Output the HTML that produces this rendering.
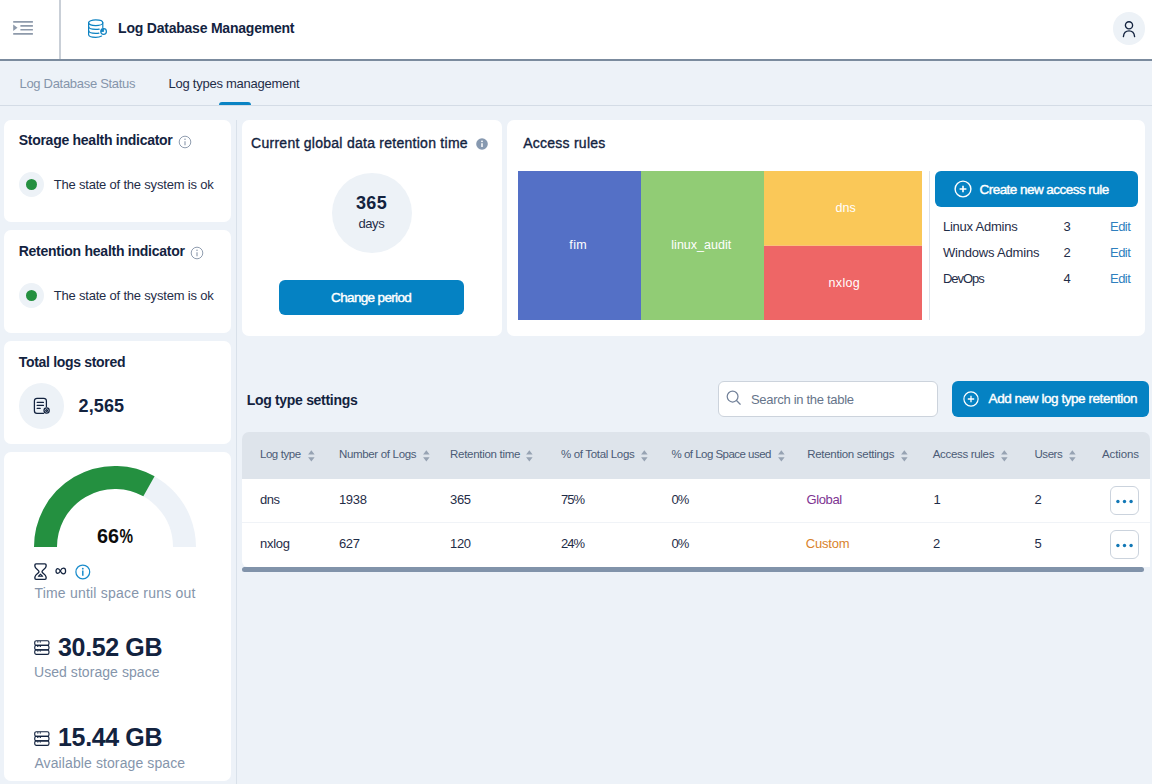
<!DOCTYPE html>
<html><head><meta charset="utf-8"><title>Log Database Management</title>
<style>
*{box-sizing:border-box;margin:0;padding:0}
html,body{width:1152px;height:784px;overflow:hidden}
body{background:#edf2f8;font-family:"Liberation Sans",sans-serif;position:relative}
.a{position:absolute}
.t{position:absolute;white-space:pre;line-height:20px;font-family:"Liberation Sans",sans-serif}
.card{position:absolute;background:#fff;border-radius:7px}
.btn{position:absolute;background:#0582c3;border-radius:6px}
svg{position:absolute;overflow:visible}

</style></head>
<body>
<!-- header -->
<div class="a" style="left:0;top:0;width:1152px;height:59px;background:#fff"></div>
<div class="a" style="left:0;top:59px;width:1152px;height:2px;background:#7b8b9e"></div>
<div class="a" style="left:59px;top:0;width:2px;height:59px;background:#c9cfd7"></div>
<!-- menu icon -->
<svg style="left:13px;top:20px" width="21" height="16" viewBox="0 0 21 16">
  <g stroke="#8e9aab" stroke-width="1.7" fill="none">
    <path d="M0.2 1.85H19.9M7.4 5.85H19.9M7.4 9.75H19.9M0.2 13.85H19.9"/>
  </g>
  <path d="M0.2 4.6L4.5 7.75L0.2 10.9Z" fill="#8e9aab"/>
</svg>
<!-- db icon -->
<svg style="left:88px;top:19px" width="20" height="20" viewBox="0 0 20 20">
  <g stroke="#0d82c2" stroke-width="1.2" fill="none" stroke-linecap="round">
    <ellipse cx="7.7" cy="3.75" rx="7.1" ry="2.8"/>
    <path d="M0.6 3.65V15.5C0.6 17.1 3.7 18.35 7.7 18.35C10 18.35 12.2 17.9 13.6 17.1"/>
    <path d="M14.8 3.65V8.4"/>
    <path d="M0.6 7.6C0.6 9.2 3.7 10.45 7.7 10.45C9 10.45 10.2 10.3 11.2 10.05"/>
    <path d="M0.6 11.5C0.6 13.1 3.7 14.35 7.7 14.35C8.9 14.35 10 14.25 10.9 14.05"/>
    <circle cx="15.6" cy="12.5" r="2.8"/>
  </g>
  <path d="M15.6 12.5V9.9A2.6 2.6 0 0 0 13 12.5Z" fill="#0d82c2" stroke="#0d82c2" stroke-width="0.8" stroke-linejoin="round"/>
</svg>
<!-- avatar -->
<div class="a" style="left:1113px;top:12px;width:32px;height:32.6px;border-radius:50%;background:#edf2f7"></div>
<svg style="left:1121px;top:19px" width="16" height="20" viewBox="0 0 16 20">
  <g stroke="#13233f" stroke-width="1.35" fill="none" stroke-linecap="round">
    <circle cx="8" cy="6.3" r="3.6"/>
    <path d="M2.4 17.6C2.8 13.9 5.2 11.9 8 11.9C10.8 11.9 13.2 13.9 13.6 17.6"/>
  </g>
</svg>
<!-- tabs -->
<div class="a" style="left:0;top:105px;width:1152px;height:1px;background:#d4dce6"></div>
<div class="a" style="left:219px;top:101.6px;width:32px;height:3.6px;background:#0a84c4;border-radius:3px 3px 0 0"></div>
<!-- vertical page divider -->
<div class="a" style="left:236px;top:120px;width:1.2px;height:664px;background:#d9e1ea"></div>

<!-- left cards -->
<div class="card" style="left:4px;top:119.5px;width:227px;height:102.5px"></div>
<div class="card" style="left:4px;top:230.3px;width:227px;height:103px"></div>
<div class="card" style="left:4px;top:341.3px;width:227px;height:103px"></div>
<div class="card" style="left:4px;top:452.4px;width:227px;height:329px"></div>

<!-- info outline icons -->
<svg style="left:178.4px;top:135px" width="14" height="14" viewBox="0 0 14 14"><circle cx="7" cy="7" r="5.8" fill="none" stroke="#8a98ab" stroke-width="0.95"/><path d="M7 6.2V10.2" stroke="#8a98ab" stroke-width="1.1"/><circle cx="7" cy="4.3" r="0.75" fill="#8a98ab"/></svg>
<svg style="left:190px;top:246px" width="14" height="14" viewBox="0 0 14 14"><circle cx="7" cy="7" r="5.8" fill="none" stroke="#8a98ab" stroke-width="0.95"/><path d="M7 6.2V10.2" stroke="#8a98ab" stroke-width="1.1"/><circle cx="7" cy="4.3" r="0.75" fill="#8a98ab"/></svg>

<!-- status dots -->
<div class="a" style="left:18.6px;top:172px;width:25.4px;height:25.4px;border-radius:50%;background:#edf2f7"></div>
<div class="a" style="left:25.7px;top:179.1px;width:11.2px;height:11.2px;border-radius:50%;background:#249040"></div>
<div class="a" style="left:18.6px;top:283px;width:25.4px;height:25.4px;border-radius:50%;background:#edf2f7"></div>
<div class="a" style="left:25.7px;top:290.1px;width:11.2px;height:11.2px;border-radius:50%;background:#249040"></div>

<!-- total logs icon -->
<div class="a" style="left:19px;top:383.3px;width:45.4px;height:45.8px;border-radius:50%;background:#edf2f7"></div>
<svg style="left:33px;top:397px" width="18" height="18" viewBox="0 0 18 18">
  <g stroke="#13233f" stroke-width="1.25" fill="none" stroke-linecap="round" stroke-linejoin="round">
    <path d="M10.6 16.3H4A2.6 2.6 0 0 1 1.4 13.7V3.9A2.6 2.6 0 0 1 4 1.3H10.8A2.6 2.6 0 0 1 13.4 3.9V9.4"/>
    <path d="M4.2 5.4H10.4M4.2 8.4H10.4M4.2 11.4H7.2"/>
    <circle cx="13.6" cy="13.5" r="2.6"/>
    <circle cx="13.6" cy="13.5" r="0.9"/>
  </g>
</svg>

<!-- gauge -->
<svg style="left:0;top:0" width="240" height="784" viewBox="0 0 240 784">
  <path d="M45.5 547A69.5 69.5 0 0 1 184.5 547" fill="none" stroke="#edf2f8" stroke-width="23"/>
  <path d="M45.5 547A69.5 69.5 0 0 1 148.96 486.3" fill="none" stroke="#249040" stroke-width="23"/>
</svg>
<div class="t" style="left:96.8px;top:526px;font-size:21px;font-weight:bold;color:#0c0c0c;transform:scaleX(.94);transform-origin:0 50%">66<span style="display:inline-block;transform:scaleX(.77);transform-origin:0 50%;margin-left:0.5px">%</span></div>
<!-- hourglass -->
<svg style="left:34px;top:563px" width="13" height="18" viewBox="0 0 13 18">
  <path d="M2 0.9H11Q12.1 0.9 12.1 2V3.2C12.1 5.8 8 7 8 8.65C8 10.3 12.1 11.5 12.1 14.1V15.3Q12.1 16.4 11 16.4H2Q0.9 16.4 0.9 15.3V14.1C0.9 11.5 5 10.3 5 8.65C5 7 0.9 5.8 0.9 3.2V2Q0.9 0.9 2 0.9Z" fill="none" stroke="#13233f" stroke-width="1.35" stroke-linejoin="round"/>
  <path d="M6.5 11.2L8.7 13.3H4.3Z" fill="#c9d3e0" stroke="#13233f" stroke-width="1.1" stroke-linejoin="round"/>
</svg>
<!-- infinity -->
<svg style="left:55.3px;top:567px" width="12" height="8" viewBox="0 0 12 8">
  <path d="M5.3 4C4.5 2.5 3.8 1.7 2.8 1.7C1.7 1.7 1 2.7 1 4C1 5.3 1.7 6.3 2.8 6.3C3.8 6.3 4.5 5.5 5.3 4C6.2 2.2 7.2 1.2 8.4 1.2C9.8 1.2 10.6 2.4 10.6 4C10.6 5.6 9.8 6.8 8.4 6.8C7.2 6.8 6.2 5.8 5.3 4Z" fill="none" stroke="#13233f" stroke-width="1.25"/>
</svg>
<!-- info blue -->
<svg style="left:75.1px;top:563.9px" width="16" height="16" viewBox="0 0 16 16"><circle cx="7.8" cy="7.9" r="6.9" fill="none" stroke="#1a8ccb" stroke-width="1.25"/><path d="M7.8 6.6V11.7" stroke="#1a8ccb" stroke-width="1.5"/><circle cx="7.8" cy="4.7" r="0.9" fill="#1a8ccb"/></svg>

<!-- storage icons -->
<svg style="left:34px;top:640px" width="16" height="16" viewBox="0 0 16 16">
  <g stroke="#13233f" stroke-width="1.15" fill="none">
    <rect x="0.75" y="0.75" width="14.2" height="4.55" rx="1.6"/>
    <rect x="0.75" y="5.3" width="14.2" height="4.55" rx="1.6"/>
    <rect x="0.75" y="9.85" width="14.2" height="4.55" rx="1.6"/>
    <path d="M3.2 1.9H4.4M5.7 1.9H6.9M3.2 6.45H4.4M5.7 6.45H6.9M3.2 11H4.4M5.7 11H6.9" stroke-width="1.1"/>
  </g>
</svg>
<svg style="left:34px;top:731.3px" width="16" height="16" viewBox="0 0 16 16">
  <g stroke="#13233f" stroke-width="1.15" fill="none">
    <rect x="0.75" y="0.75" width="14.2" height="4.55" rx="1.6"/>
    <rect x="0.75" y="5.3" width="14.2" height="4.55" rx="1.6"/>
    <rect x="0.75" y="9.85" width="14.2" height="4.55" rx="1.6"/>
    <path d="M3.2 1.9H4.4M5.7 1.9H6.9M3.2 6.45H4.4M5.7 6.45H6.9M3.2 11H4.4M5.7 11H6.9" stroke-width="1.1"/>
  </g>
</svg>

<!-- retention card -->
<div class="card" style="left:242px;top:119.5px;width:260px;height:216px"></div>
<svg style="left:475.8px;top:138.3px" width="12" height="12" viewBox="0 0 12 12"><circle cx="6" cy="6" r="5.8" fill="#8799b0"/><path d="M6 5.2V9" stroke="#fff" stroke-width="1.5"/><circle cx="6" cy="3.3" r="0.9" fill="#fff"/></svg>
<div class="a" style="left:332px;top:173px;width:80px;height:80.4px;border-radius:50%;background:#edf2f7"></div>
<div class="btn" style="left:279px;top:280px;width:185px;height:35px"></div>

<!-- access rules card -->
<div class="card" style="left:507px;top:119.5px;width:638px;height:216px"></div>
<div class="a" style="left:640px;top:170.8px;width:282.2px;height:149.2px;background:#fbc27a"></div>
<div class="a" style="left:518px;top:170.8px;width:122.9px;height:149.2px;background:#5470c6"></div>
<div class="a" style="left:641.1px;top:170.8px;width:122.8px;height:149.2px;background:#91cc75"></div>
<div class="a" style="left:764.2px;top:170.8px;width:158px;height:74.4px;background:#fac858"></div>
<div class="a" style="left:764.2px;top:245.5px;width:158px;height:74.5px;background:#ee6666"></div>
<div class="a" style="left:929.2px;top:171px;width:1px;height:149px;background:#dde3eb"></div>
<div class="btn" style="left:935px;top:171px;width:203px;height:36px"></div>
<svg style="left:953.5px;top:180px" width="18" height="18" viewBox="0 0 18 18"><circle cx="9" cy="9" r="7.9" fill="none" stroke="#fff" stroke-width="1.4"/><path d="M5.6 9H12.4M9 5.8V12.2" stroke="#fff" stroke-width="1.6"/></svg>

<!-- search + add -->
<div class="a" style="left:718px;top:381px;width:220px;height:36px;background:#fff;border:1px solid #ccd3dc;border-radius:6px"></div>
<svg style="left:726.4px;top:390.4px" width="16" height="16" viewBox="0 0 16 16"><circle cx="6.6" cy="6.6" r="5.4" fill="none" stroke="#73829a" stroke-width="1.25"/><path d="M10.5 10.5L14.2 14.2" stroke="#73829a" stroke-width="1.25" stroke-linecap="round"/></svg>
<div class="btn" style="left:952px;top:381px;width:197.3px;height:36px"></div>
<svg style="left:962.1px;top:390.4px" width="18" height="18" viewBox="0 0 18 18"><circle cx="9" cy="9" r="7.1" fill="none" stroke="#fff" stroke-width="1.2"/><path d="M5.8 9H12.2M9 5.8V12.2" stroke="#fff" stroke-width="1.3"/></svg>

<!-- table -->
<div class="a" style="left:242px;top:432px;width:908px;height:46.6px;background:#dee4eb;border-radius:7px 7px 0 0"></div>
<div class="a" style="left:242px;top:478.6px;width:908px;height:88.2px;background:#fff;border-radius:0 0 0 6px"></div>
<div class="a" style="left:242px;top:522px;width:908px;height:1px;background:#f0f3f7"></div>
<div class="a" style="left:242px;top:566.6px;width:902.3px;height:5.2px;background:#8193aa;border-radius:3px"></div>

<!-- action buttons -->
<div class="a" style="left:1109.9px;top:486px;width:29px;height:28.7px;background:#fff;border:1px solid #cbd3dd;border-radius:6px"></div>
<div class="a" style="left:1109.9px;top:529.9px;width:29px;height:28.8px;background:#fff;border:1px solid #cbd3dd;border-radius:6px"></div>
<svg style="left:1110px;top:486px" width="29" height="29" viewBox="0 0 29 29"><g fill="#1278b6"><circle cx="7.9" cy="15.5" r="1.7"/><circle cx="14.5" cy="15.5" r="1.7"/><circle cx="21.1" cy="15.5" r="1.7"/></g></svg>
<svg style="left:1110px;top:530px" width="29" height="29" viewBox="0 0 29 29"><g fill="#1278b6"><circle cx="7.9" cy="15.5" r="1.7"/><circle cx="14.5" cy="15.5" r="1.7"/><circle cx="21.1" cy="15.5" r="1.7"/></g></svg>

<!-- sort icons -->
<svg style="left:307.65px;top:449.8px" width="7" height="12" viewBox="0 0 7 12"><path d="M3.35 0.2L6.6 4.6H0.1Z M3.35 11.5L6.6 7.3H0.1Z" fill="#97a3b3"/></svg>
<svg style="left:423.45px;top:449.8px" width="7" height="12" viewBox="0 0 7 12"><path d="M3.35 0.2L6.6 4.6H0.1Z M3.35 11.5L6.6 7.3H0.1Z" fill="#97a3b3"/></svg>
<svg style="left:526.45px;top:449.8px" width="7" height="12" viewBox="0 0 7 12"><path d="M3.35 0.2L6.6 4.6H0.1Z M3.35 11.5L6.6 7.3H0.1Z" fill="#97a3b3"/></svg>
<svg style="left:641.15px;top:449.8px" width="7" height="12" viewBox="0 0 7 12"><path d="M3.35 0.2L6.6 4.6H0.1Z M3.35 11.5L6.6 7.3H0.1Z" fill="#97a3b3"/></svg>
<svg style="left:778.45px;top:449.8px" width="7" height="12" viewBox="0 0 7 12"><path d="M3.35 0.2L6.6 4.6H0.1Z M3.35 11.5L6.6 7.3H0.1Z" fill="#97a3b3"/></svg>
<svg style="left:900.65px;top:449.8px" width="7" height="12" viewBox="0 0 7 12"><path d="M3.35 0.2L6.6 4.6H0.1Z M3.35 11.5L6.6 7.3H0.1Z" fill="#97a3b3"/></svg>
<svg style="left:1001.25px;top:449.8px" width="7" height="12" viewBox="0 0 7 12"><path d="M3.35 0.2L6.6 4.6H0.1Z M3.35 11.5L6.6 7.3H0.1Z" fill="#97a3b3"/></svg>
<svg style="left:1069.15px;top:449.8px" width="7" height="12" viewBox="0 0 7 12"><path d="M3.35 0.2L6.6 4.6H0.1Z M3.35 11.5L6.6 7.3H0.1Z" fill="#97a3b3"/></svg>

<!-- text -->
<div class="t" style="left:118.1px;top:18px;font-size:14px;font-weight:bold;color:#13233f;letter-spacing:-0.221px;">Log Database Management</div>
<div class="t" style="left:19.5px;top:74px;font-size:13px;font-weight:normal;color:#8595ab;letter-spacing:-0.301px;">Log Database Status</div>
<div class="t" style="left:168.5px;top:74px;font-size:13px;font-weight:normal;color:#1f2d48;letter-spacing:-0.246px;">Log types management</div>
<div class="t" style="left:18.7px;top:130px;font-size:14px;font-weight:bold;color:#13233f;letter-spacing:-0.267px;">Storage health indicator</div>
<div class="t" style="left:53.7px;top:175px;font-size:13px;font-weight:normal;color:#1f2d48;letter-spacing:-0.195px;">The state of the system is ok</div>
<div class="t" style="left:18.7px;top:241px;font-size:14px;font-weight:bold;color:#13233f;letter-spacing:-0.259px;">Retention health indicator</div>
<div class="t" style="left:53.7px;top:286px;font-size:13px;font-weight:normal;color:#1f2d48;letter-spacing:-0.195px;">The state of the system is ok</div>
<div class="t" style="left:18.7px;top:352px;font-size:14px;font-weight:bold;color:#13233f;letter-spacing:-0.309px;">Total logs stored</div>
<div class="t" style="left:78.5px;top:396px;font-size:18px;font-weight:bold;color:#13233f;letter-spacing:0.138px;">2,565</div>
<div class="t" style="left:34.4px;top:583px;font-size:14px;font-weight:normal;color:#8595ab;letter-spacing:0.213px;">Time until space runs out</div>
<div class="t" style="left:58.1px;top:637px;font-size:25px;font-weight:bold;color:#13233f;letter-spacing:-0.374px;">30.52 GB</div>
<div class="t" style="left:34.0px;top:662px;font-size:14px;font-weight:normal;color:#8595ab;letter-spacing:0.057px;">Used storage space</div>
<div class="t" style="left:58.1px;top:727px;font-size:25px;font-weight:bold;color:#13233f;letter-spacing:-0.374px;">15.44 GB</div>
<div class="t" style="left:34.4px;top:753px;font-size:14px;font-weight:normal;color:#8595ab;letter-spacing:0.104px;">Available storage space</div>
<div class="t" style="left:251.1px;top:133px;font-size:14px;font-weight:normal;color:#13233f;letter-spacing:0.264px;-webkit-text-stroke:0.35px #13233f;">Current global data retention time</div>
<div class="t" style="left:356.0px;top:193px;font-size:18px;font-weight:bold;color:#13233f;letter-spacing:0.327px;">365</div>
<div class="t" style="left:358.4px;top:214px;font-size:13px;font-weight:normal;color:#1f2d48;letter-spacing:-0.390px;">days</div>
<div class="t" style="left:331.1px;top:288px;font-size:13.5px;font-weight:normal;color:#ffffff;letter-spacing:-0.657px;-webkit-text-stroke:0.4px #fff;">Change period</div>
<div class="t" style="left:523.2px;top:133px;font-size:14px;font-weight:normal;color:#13233f;letter-spacing:0.249px;-webkit-text-stroke:0.35px #13233f;">Access rules</div>
<div class="t" style="left:979.5px;top:180px;font-size:13.5px;font-weight:normal;color:#ffffff;letter-spacing:-0.542px;-webkit-text-stroke:0.4px #fff;">Create new access rule</div>
<div class="t" style="left:942.9px;top:217px;font-size:13px;font-weight:normal;color:#1f2d48;letter-spacing:-0.221px;">Linux Admins</div>
<div class="t" style="left:1063.4px;top:217px;font-size:13px;font-weight:normal;color:#1f2d48;letter-spacing:0.000px;">3</div>
<div class="t" style="left:1110.1px;top:217px;font-size:13px;font-weight:normal;color:#2f7fbe;letter-spacing:-0.569px;">Edit</div>
<div class="t" style="left:942.9px;top:243px;font-size:13px;font-weight:normal;color:#1f2d48;letter-spacing:-0.183px;">Windows Admins</div>
<div class="t" style="left:1063.4px;top:243px;font-size:13px;font-weight:normal;color:#1f2d48;letter-spacing:0.000px;">2</div>
<div class="t" style="left:1110.1px;top:243px;font-size:13px;font-weight:normal;color:#2f7fbe;letter-spacing:-0.569px;">Edit</div>
<div class="t" style="left:942.9px;top:269px;font-size:13px;font-weight:normal;color:#1f2d48;letter-spacing:-1.000px;">DevOps</div>
<div class="t" style="left:1063.4px;top:269px;font-size:13px;font-weight:normal;color:#1f2d48;letter-spacing:0.000px;">4</div>
<div class="t" style="left:1110.1px;top:269px;font-size:13px;font-weight:normal;color:#2f7fbe;letter-spacing:-0.569px;">Edit</div>
<div class="t" style="left:246.7px;top:390px;font-size:14px;font-weight:bold;color:#13233f;letter-spacing:-0.307px;">Log type settings</div>
<div class="t" style="left:751.0px;top:390px;font-size:13px;font-weight:normal;color:#66748a;letter-spacing:-0.300px;">Search in the table</div>
<div class="t" style="left:988.6px;top:389px;font-size:13.5px;font-weight:normal;color:#ffffff;letter-spacing:-0.438px;-webkit-text-stroke:0.4px #fff;">Add new log type retention</div>
<div class="t" style="left:259.9px;top:444px;font-size:11.5px;font-weight:normal;color:#4b5b76;letter-spacing:-0.404px;">Log type</div>
<div class="t" style="left:338.9px;top:444px;font-size:11.5px;font-weight:normal;color:#4b5b76;letter-spacing:-0.318px;">Number of Logs</div>
<div class="t" style="left:450.0px;top:444px;font-size:11.5px;font-weight:normal;color:#4b5b76;letter-spacing:-0.281px;">Retention time</div>
<div class="t" style="left:561.0px;top:444px;font-size:11.5px;font-weight:normal;color:#4b5b76;letter-spacing:-0.338px;">% of Total Logs</div>
<div class="t" style="left:671.6px;top:444px;font-size:11.5px;font-weight:normal;color:#4b5b76;letter-spacing:-0.525px;">% of Log Space used</div>
<div class="t" style="left:807.2px;top:444px;font-size:11.5px;font-weight:normal;color:#4b5b76;letter-spacing:-0.280px;">Retention settings</div>
<div class="t" style="left:932.7px;top:444px;font-size:11.5px;font-weight:normal;color:#4b5b76;letter-spacing:-0.317px;">Access rules</div>
<div class="t" style="left:1034.5px;top:444px;font-size:11.5px;font-weight:normal;color:#4b5b76;letter-spacing:-0.458px;">Users</div>
<div class="t" style="left:1102.0px;top:444px;font-size:11.5px;font-weight:normal;color:#4b5b76;letter-spacing:-0.120px;">Actions</div>
<div class="t" style="left:259.9px;top:490px;font-size:13px;font-weight:normal;color:#1f2d48;letter-spacing:-0.434px;">dns</div>
<div class="t" style="left:338.9px;top:490px;font-size:13px;font-weight:normal;color:#1f2d48;letter-spacing:-0.274px;">1938</div>
<div class="t" style="left:450.0px;top:490px;font-size:13px;font-weight:normal;color:#1f2d48;letter-spacing:-0.352px;">365</div>
<div class="t" style="left:561.0px;top:490px;font-size:13px;font-weight:normal;color:#1f2d48;letter-spacing:-1.000px;">75%</div>
<div class="t" style="left:671.6px;top:490px;font-size:13px;font-weight:normal;color:#1f2d48;letter-spacing:-1.000px;">0%</div>
<div class="t" style="left:806.5px;top:490px;font-size:13px;font-weight:normal;color:#7d3391;letter-spacing:-0.396px;">Global</div>
<div class="t" style="left:933.5px;top:490px;font-size:13px;font-weight:normal;color:#1f2d48;letter-spacing:0.000px;">1</div>
<div class="t" style="left:1034.5px;top:490px;font-size:13px;font-weight:normal;color:#1f2d48;letter-spacing:0.000px;">2</div>
<div class="t" style="left:259.9px;top:534px;font-size:13px;font-weight:normal;color:#1f2d48;letter-spacing:-0.245px;">nxlog</div>
<div class="t" style="left:338.9px;top:534px;font-size:13px;font-weight:normal;color:#1f2d48;letter-spacing:-0.302px;">627</div>
<div class="t" style="left:450.0px;top:534px;font-size:13px;font-weight:normal;color:#1f2d48;letter-spacing:-0.352px;">120</div>
<div class="t" style="left:561.0px;top:534px;font-size:13px;font-weight:normal;color:#1f2d48;letter-spacing:-1.000px;">24%</div>
<div class="t" style="left:671.6px;top:534px;font-size:13px;font-weight:normal;color:#1f2d48;letter-spacing:-1.000px;">0%</div>
<div class="t" style="left:805.7px;top:534px;font-size:13px;font-weight:normal;color:#d9822b;letter-spacing:-0.179px;">Custom</div>
<div class="t" style="left:933.0px;top:534px;font-size:13px;font-weight:normal;color:#1f2d48;letter-spacing:0.000px;">2</div>
<div class="t" style="left:1034.5px;top:534px;font-size:13px;font-weight:normal;color:#1f2d48;letter-spacing:0.000px;">5</div>
<div class="t" style="left:569.3px;top:235px;font-size:12.5px;font-weight:normal;color:#ffffff;letter-spacing:0.414px;">fim</div>
<div class="t" style="left:671.3px;top:235px;font-size:12.5px;font-weight:normal;color:#ffffff;letter-spacing:0.023px;">linux_audit</div>
<div class="t" style="left:835.6px;top:198px;font-size:12.5px;font-weight:normal;color:#ffffff;letter-spacing:0.022px;">dns</div>
<div class="t" style="left:828.6px;top:273px;font-size:12.5px;font-weight:normal;color:#ffffff;letter-spacing:0.327px;">nxlog</div>
</body></html>
